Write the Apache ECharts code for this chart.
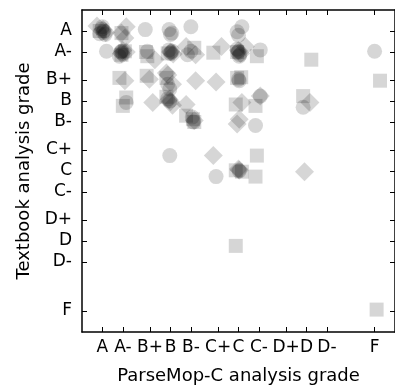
<!DOCTYPE html>
<html>
<head>
<meta charset="utf-8">
<script src="https://cdn.jsdelivr.net/npm/echarts@6/dist/echarts.min.js"></script>
<style>
  html, body { margin: 0; padding: 0; background: #fff; }
  #chart-grades { width: 395px; height: 390px; }
</style>
</head>
<body>
<div id="chart-grades"></div>
<script>
// letter grades and their grade points (used for both axes)
var gradeNames = ['A', 'A-', 'B+', 'B', 'B-', 'C+', 'C', 'C-', 'D+', 'D', 'D-', 'F'];
var gradePoints = [4, 3.7, 3.3, 3, 2.7, 2.3, 2, 1.7, 1.3, 1, 0.7, 0];

// [ParseMop-C grade, textbook grade], jittered as in the picture
var circlePoints = [
  [4.00, 4.06], [3.99, 3.98], [4.04, 3.96], [3.98, 4.00], [4.01, 4.03], [3.96, 3.95],
  [3.37, 4.02], [3.02, 4.02], [2.98, 3.97], [3.00, 3.95],
  [2.70, 4.06], [2.02, 3.99], [1.95, 4.06], [2.00, 3.94],
  [3.94, 3.71], [3.72, 3.71], [3.75, 3.64], [3.70, 3.68], [3.73, 3.70],
  [3.34, 3.71], [2.97, 3.71], [3.00, 3.68], [3.02, 3.73], [2.99, 3.70],
  [2.70, 3.71], [2.75, 3.66], [2.00, 3.71], [1.98, 3.66],
  [2.02, 3.74], [1.99, 3.64], [2.01, 3.69], [1.68, 3.73],
  [3.04, 3.24], [3.01, 3.17], [1.99, 3.29], [2.00, 3.31],
  [3.65, 2.98], [3.01, 3.00], [3.04, 3.03], [1.68, 3.07],
  [2.68, 2.77], [2.66, 2.70], [1.75, 2.65],
  [3.01, 2.22], [2.33, 1.92], [1.99, 2.00],
  [1.05, 2.91], [0.00, 3.71]
];
var diamondPoints = [
  [4.08, 4.07], [3.95, 3.98], [3.99, 4.02], [3.65, 4.06], [3.72, 3.97], [3.67, 3.90],
  [3.70, 3.72], [3.65, 3.70], [3.72, 3.68], [3.23, 3.59], [3.00, 3.70], [2.96, 3.67],
  [2.77, 3.78], [2.63, 3.66], [2.25, 3.78], [1.90, 3.78], [2.00, 3.72], [1.97, 3.68],
  [3.67, 3.29], [3.31, 3.31], [3.06, 3.40], [3.04, 3.37], [2.97, 3.24],
  [2.63, 3.29], [2.33, 3.27],
  [3.26, 2.98], [3.02, 3.02], [2.97, 2.94], [3.00, 2.99], [2.77, 2.95],
  [1.95, 2.98], [1.68, 3.07], [0.95, 2.98],
  [2.65, 2.72], [1.99, 2.74], [2.02, 2.67],
  [2.37, 2.22], [1.99, 2.01], [2.00, 2.03], [1.03, 1.99]
];
var squarePoints = [
  [4.04, 4.00], [3.72, 3.97],
  [3.72, 3.66], [3.67, 3.71], [3.34, 3.64], [3.36, 3.70], [3.04, 3.68],
  [2.65, 3.76], [2.37, 3.69], [2.02, 3.70], [1.73, 3.64], [0.93, 3.59],
  [3.75, 3.33], [3.35, 3.36], [3.06, 3.33], [2.02, 3.33], [1.96, 3.34], [-0.08, 3.29],
  [3.65, 3.05], [3.70, 2.93], [3.06, 3.06], [2.04, 2.95], [1.75, 2.93], [1.05, 3.07],
  [2.77, 2.79], [2.65, 2.70], [2.67, 2.74],
  [1.73, 2.22], [2.04, 2.01], [1.95, 1.99], [1.75, 1.92],
  [2.04, 0.93], [-0.03, 0.02]
];

var myChart = echarts.init(document.getElementById('chart-grades'));

var markColor = 'rgba(0,0,0,0.2)';
var fontFamily = 'DejaVu Sans';

function gradeLabel(v) {
  for (var i = 0; i < gradePoints.length; i++) {
    if (Math.abs(gradePoints[i] - v) < 1e-6) return gradeNames[i];
  }
  return '';
}

// shared axis bits; the top and right axes are only there for the mirrored ticks
function makeAxis(extra) {
  var axis = {
    type: 'value',
    min: -0.3,
    max: 4.3,
    gridIndex: 0,
    splitLine: { show: false },
    axisLine: { show: true, onZero: false, lineStyle: { color: '#000', width: 1.5 } },
    axisTick: {
      show: true,
      inside: true,
      length: 5,
      customValues: gradePoints,
      lineStyle: { color: '#000', width: 1 }
    },
    axisLabel: {
      show: true,
      customValues: gradePoints,
      formatter: gradeLabel,
      color: '#000',
      fontFamily: fontFamily,
      fontSize: 17
    }
  };
  return Object.assign(axis, extra);
}

var option = {
  animation: false,
  backgroundColor: '#fff',
  grid: { left: 82, top: 10, width: 315, height: 325, containLabel: false },
  xAxis: [
    makeAxis({
      position: 'bottom',
      inverse: true,
      name: 'ParseMop-C analysis grade',
      nameLocation: 'middle',
      nameGap: 35,
      nameTextStyle: { color: '#000', fontFamily: fontFamily, fontSize: 18 }
    }),
    makeAxis({ position: 'top', inverse: true })
  ],
  yAxis: [
    makeAxis({
      position: 'left',
      name: 'Textbook analysis grade',
      nameLocation: 'middle',
      nameGap: 42,
      nameTextStyle: { color: '#000', fontFamily: fontFamily, fontSize: 18 }
    }),
    makeAxis({ position: 'right' })
  ],
  series: [
    {
      name: 'circle',
      type: 'scatter',
      symbol: 'circle',
      symbolSize: 15,
      itemStyle: { color: markColor },
      data: circlePoints
    },
    {
      name: 'diamond',
      type: 'scatter',
      symbol: 'diamond',
      symbolSize: 19,
      itemStyle: { color: markColor },
      data: diamondPoints
    },
    {
      name: 'square',
      type: 'scatter',
      symbol: 'rect',
      symbolSize: 14,
      itemStyle: { color: markColor },
      data: squarePoints
    }
  ]
};

option.xAxis[1].axisLabel.show = false;
option.yAxis[1].axisLabel.show = false;
option.xAxis[0].axisLabel.margin = 7;
option.yAxis[0].axisLabel.margin = 10;

myChart.setOption(option);
</script>
</body>
</html>
